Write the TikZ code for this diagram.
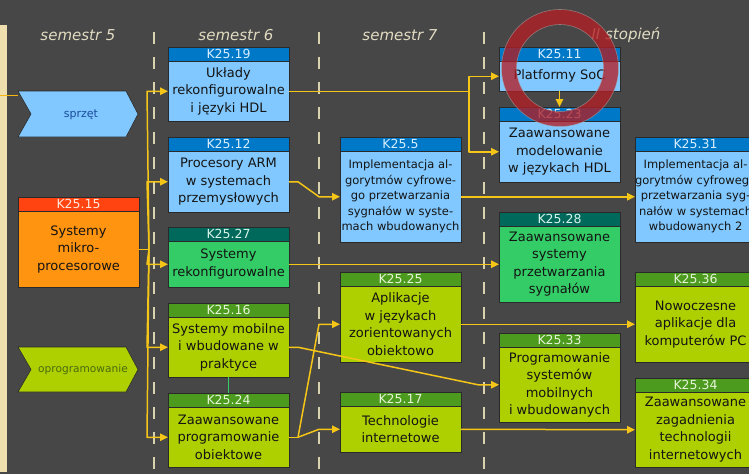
\documentclass[tikz,border=0pt]{standalone}
\usepackage{fontspec}
\setmainfont{DejaVu Sans}
\usetikzlibrary{arrows.meta}
\definecolor{bg}{HTML}{474747}
\definecolor{beige}{HTML}{F0DFAE}
\definecolor{bline}{HTML}{2A2A2A}
\definecolor{hblue}{HTML}{0078C8}
\definecolor{bblue}{HTML}{80C8FF}
\definecolor{tblue}{HTML}{D8EEFF}
\definecolor{hgreen}{HTML}{4C9A1E}
\definecolor{bgreen}{HTML}{AED000}
\definecolor{tgreen}{HTML}{E6F4D8}
\definecolor{hteal}{HTML}{00695C}
\definecolor{bteal}{HTML}{33CC66}
\definecolor{tteal}{HTML}{D8F4E8}
\definecolor{horange}{HTML}{FF4412}
\definecolor{borange}{HTML}{FF9410}
\definecolor{torange}{HTML}{FFE8D8}
\definecolor{gold}{HTML}{F5C518}
\definecolor{semcol}{HTML}{E2DCC2}
\definecolor{dashcol}{HTML}{D8D2AE}
\definecolor{ringred}{HTML}{B21E24}
\definecolor{sprtext}{HTML}{1A4A9A}
\definecolor{oprtext}{HTML}{4A6A10}
\newcommand\course[8]{%
  \node[hdr#5] (#1h) at (#2,#3) {#6};
  \node[body#5,#7,minimum height={#4-#3-14.5}] (#1) at (#2,#3+14.5) {#8};
}
\begin{document}
\begin{tikzpicture}[x=1pt,y=-1pt,
  hdr/.style={draw=bline,line width=0.8pt,minimum width=121pt,minimum height=14.5pt,inner sep=0pt,outer sep=0pt,anchor=north west,font=\fontsize{12.5}{13}\selectfont},
  body/.style={draw=bline,line width=0.8pt,minimum width=121pt,inner sep=0pt,outer sep=0pt,anchor=north west,align=center,font=\fontsize{13}{17.5}\selectfont,text=black!92},
  small/.style={font=\fontsize{11.5}{15.5}\selectfont},
  hdrblue/.style={hdr,fill=hblue,text=tblue},
  bodyblue/.style={body,fill=bblue},
  hdrgreen/.style={hdr,fill=hgreen,text=tgreen},
  bodygreen/.style={body,fill=bgreen},
  hdrteal/.style={hdr,fill=hteal,text=tteal},
  bodyteal/.style={body,fill=bteal},
  hdrorange/.style={hdr,fill=horange,text=torange},
  bodyorange/.style={body,fill=borange},
  conn/.style={draw=gold,line width=1.5pt,line join=round},
  arr/.style={conn,-{Triangle[length=8pt,width=7.5pt]}},
  sem/.style={text=semcol,font=\fontsize{15}{18}\selectfont\itshape},
  sep/.style={draw=dashcol,line width=1.3pt,dash pattern=on 12pt off 13pt},
]
\clip (0,0) rectangle (749,474);
\fill[bg] (0,0) rectangle (749,474);
\fill[beige] (0,25) rectangle (7,472);
\draw[gold!80!orange,line width=0.8pt] (0,95) -- (18,95);

% column separators
\draw[sep] (154,32) -- (154,474);
\draw[sep] (319,32) -- (319,474);
\draw[sep] (484,32) -- (484,474);

% headers
\node[sem] (s5) at (78,35) {semestr 5};
\node[sem] (s6) at (236,35) {semestr 6};
\node[sem] (s7) at (400,35) {semestr 7};
\node[sem] (s2) at (626,35) {II stopień};

% chevrons
\filldraw[fill=bblue,draw=bline,line width=0.6pt] (18,91) -- (126,91) -- (138,114) -- (126,137) -- (18,137) -- (31,114) -- cycle;
\node[text=sprtext,font=\fontsize{11}{13}\selectfont] (spr) at (81,115) {sprzęt};
\filldraw[fill=bgreen,draw=bline,line width=0.6pt] (18,347) -- (126,347) -- (138,369.5) -- (126,392) -- (18,392) -- (31,369.5) -- cycle;
\node[text=oprtext,font=\fontsize{10.6}{13}\selectfont] (opr) at (83,370) {oprogramowanie};

% semester 5
\course{k15}{18}{197}{287}{orange}{K25.15}{}{Systemy\\mikro-\\procesorowe}
% semester 6
\course{k19}{168}{47}{121}{blue}{K25.19}{}{Układy\\rekonfigurowalne\\i języki HDL}
\course{k12}{168}{137}{212}{blue}{K25.12}{}{Procesory ARM\\w systemach\\przemysłowych}
\course{k27}{168}{227}{287}{teal}{K25.27}{}{Systemy\\rekonfigurowalne}
\course{k16}{168}{303}{377}{green}{K25.16}{}{Systemy mobilne\\i wbudowane w\\praktyce}
\course{k24}{168}{393}{467}{green}{K25.24}{}{Zaawansowane\\programowanie\\obiektowe}
% semester 7
\course{k5}{340}{137}{242}{blue}{K25.5}{small}{Implementacja al-\\gorytmów cyfrowe-\\go przetwarzania\\sygnałów w syste-\\mach wbudowanych}
\course{k25}{340}{272}{362}{green}{K25.25}{}{Aplikacje\\w językach\\zorientowanych\\obiektowo}
\course{k17}{340}{392}{452}{green}{K25.17}{}{Technologie\\internetowe}
% II stopien
\course{k11}{499}{47}{91}{blue}{K25.11}{}{Platformy SoC}
\course{k23}{499}{107}{182}{blue}{K25.23}{}{Zaawansowane\\modelowanie\\w językach HDL}
\course{k28}{499}{212}{302}{teal}{K25.28}{}{Zaawansowane\\systemy\\przetwarzania\\sygnałów}
\course{k33}{499}{333}{422}{green}{K25.33}{}{Programowanie\\systemów\\mobilnych\\i wbudowanych}
\course{k31}{635}{137}{242}{blue}{K25.31}{small}{Implementacja al-\\gorytmów cyfrowego\\przetwarzania syg-\\nałów w systemach\\wbudowanych 2}
\course{k36}{635}{272}{362}{green}{K25.36}{}{Nowoczesne\\aplikacje dla\\komputerów PC}
\course{k34}{635}{378}{467}{green}{K25.34}{}{Zaawansowane\\zagadnienia\\technologii\\internetowych}

% connectors
\draw[conn] (k15.east) -- ++(10,0) coordinate (f15);
\draw[arr] (f15) -- ([xshift=-21pt]k19.west) -- (k19.west);
\draw[arr] (f15) -- ([xshift=-21pt]k12.west) -- (k12.west);
\draw[arr] (f15) -- ([xshift=-21pt]k27.west) -- (k27.west);
\draw[arr] (f15) -- ([xshift=-21pt]k16.west) -- (k16.west);
\draw[arr] (f15) -- ([xshift=-21pt]k24.west) -- (k24.west);

\draw[conn] (k19.east) -- ([xshift=-30pt]k11.west |- k19.east) coordinate (j19);
\draw[arr] (j19) |- (k11.west);
\draw[arr] (j19) |- (k23.west);
\draw[arr] (k11.south) -- (k23h.north);

\draw[arr] (k12.east) -- ++(9,0) -- ([xshift=-21pt]k5.west) -- (k5.west);
\draw[arr] (k5.east) -- (k31.west);
\draw[arr] (k27.east) -- (k28.west);
\draw[arr] (k25.east) -- (k36.west);
\draw[arr] (k16.east) -- ++(9,0) -- ([xshift=-21pt]k33.west) -- (k33.west);
\draw[conn] (k24.east) -- ++(9,0) coordinate (f24);
\draw[arr] (f24) -- ([xshift=-21pt]k25.west) -- (k25.west);
\draw[arr] (f24) -- ([xshift=-21pt]k17.west) -- (k17.west);
\draw[arr] (k17.east) -- (k34.west);
\draw[draw=bteal,line width=1.6pt] (k16.south) -- (k24h.north);

% prohibition ring
\draw[ringred,line width=15pt,opacity=0.78] (560,68) circle[radius=51pt];
\draw[gray!70,line width=0.6pt,opacity=0.6] (560,68) circle[radius=58.5pt];
\draw[gray!70,line width=0.6pt,opacity=0.6] (560,68) circle[radius=43.5pt];
\end{tikzpicture}
\end{document}
